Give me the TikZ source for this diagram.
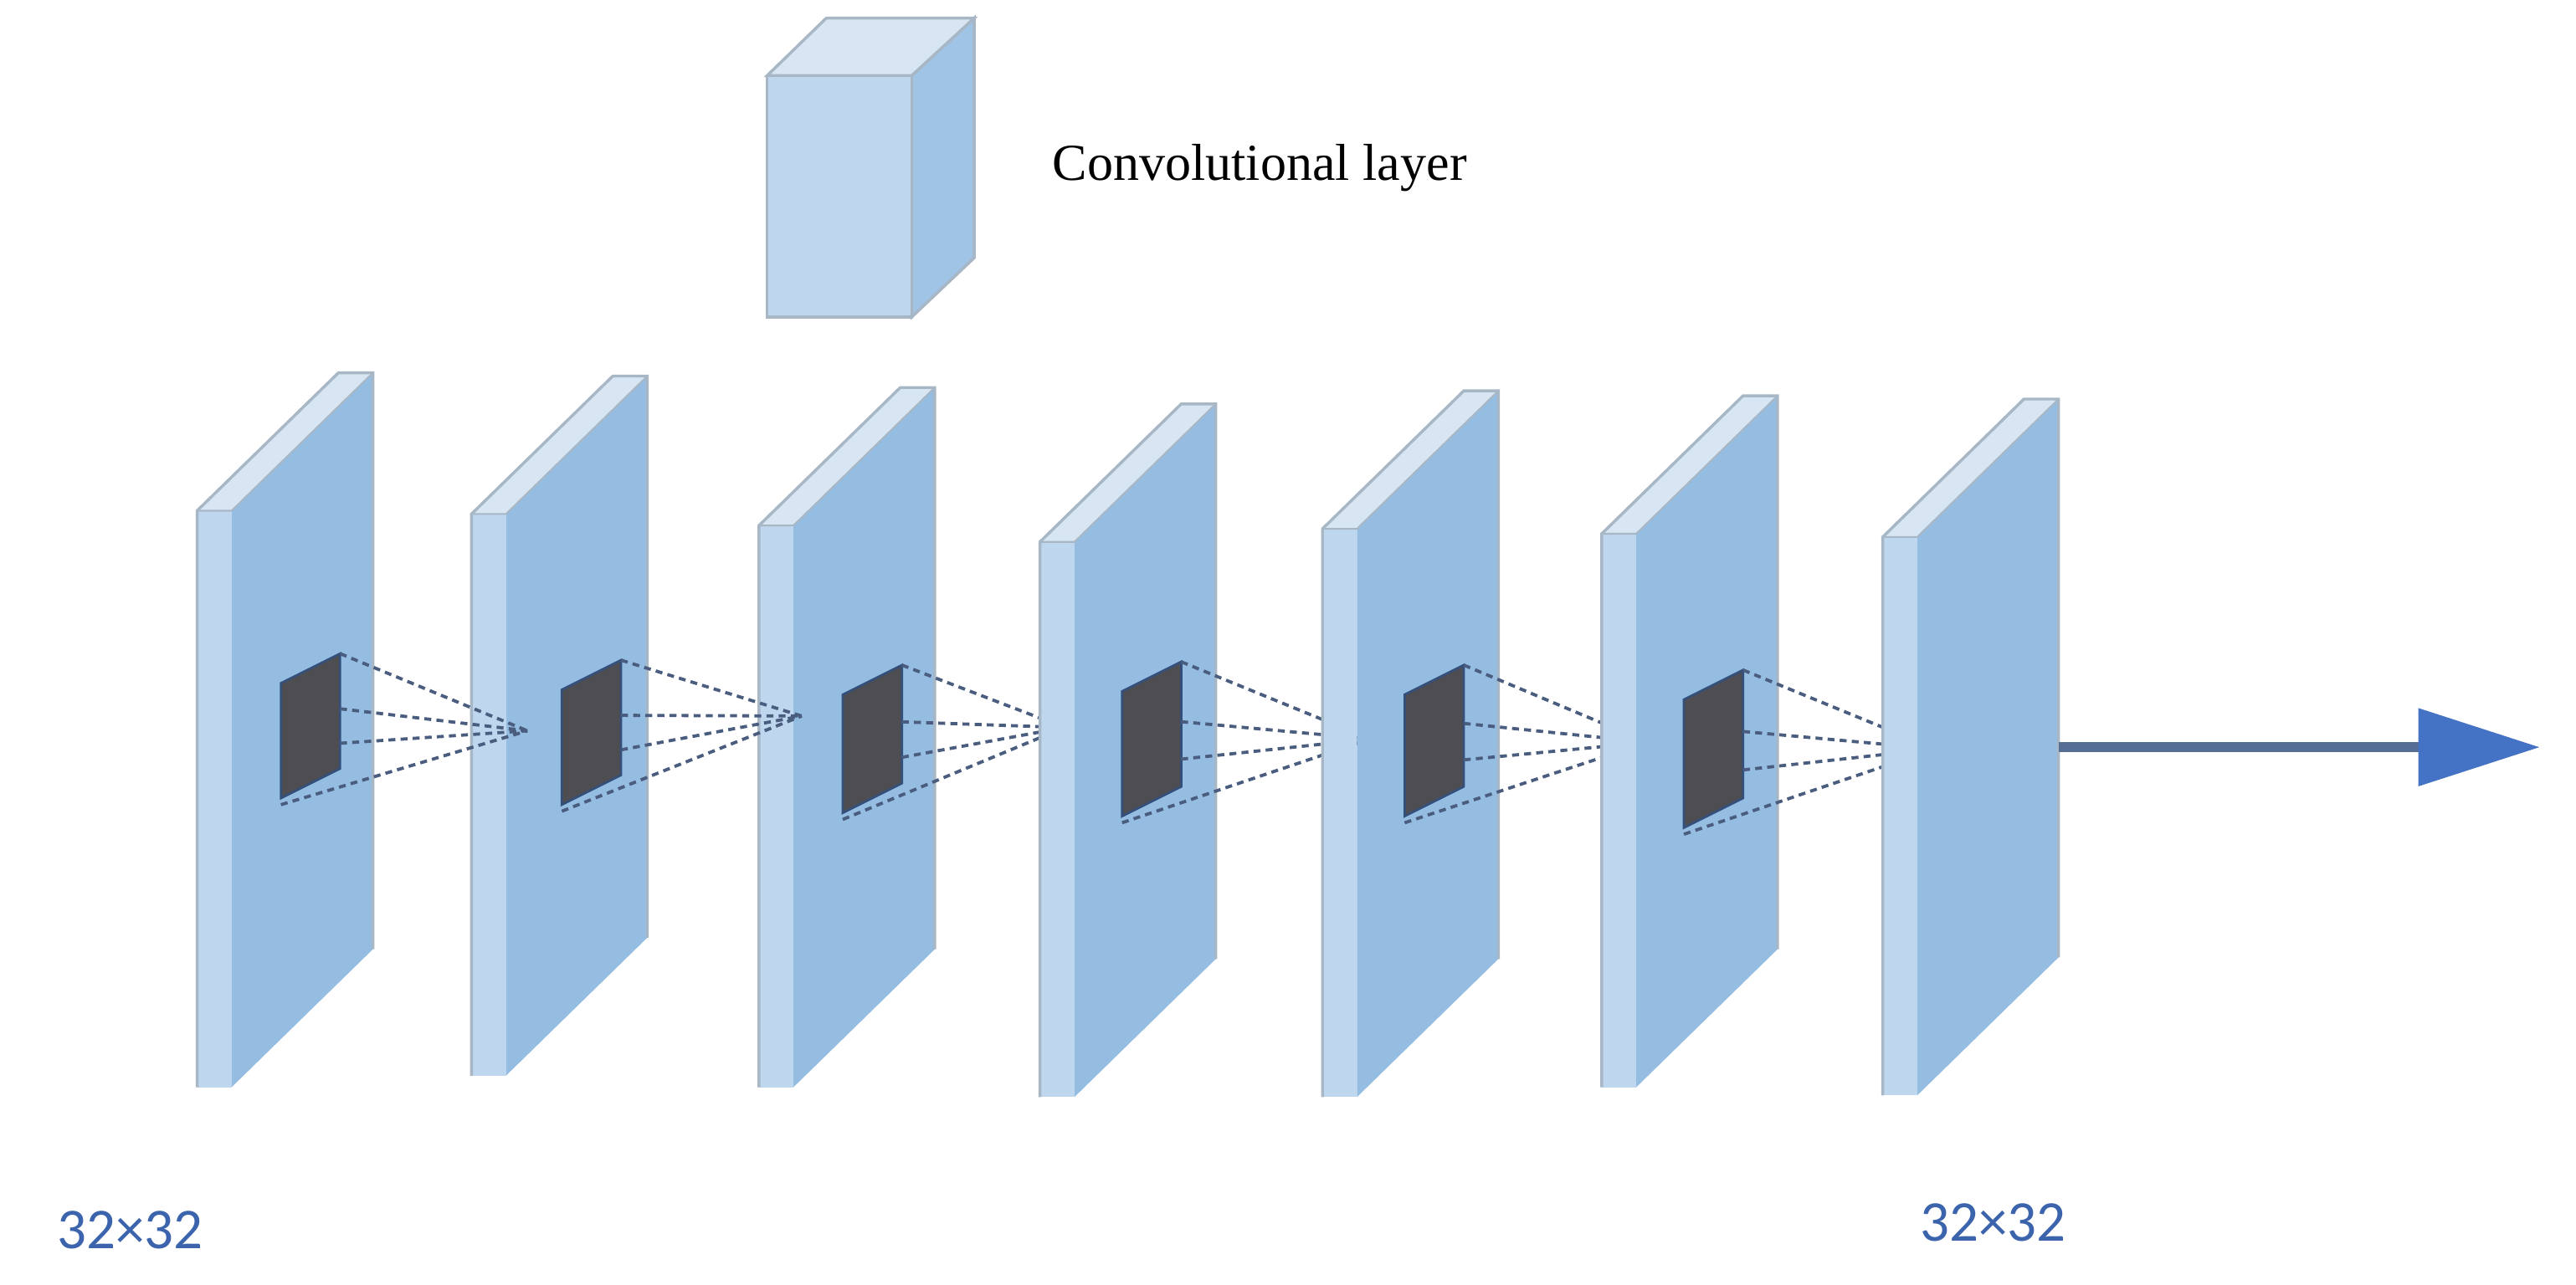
\documentclass[tikz,border=0pt]{standalone}
\usepackage{fontspec}
\setmainfont{Liberation Serif}
\newfontfamily\labelfont{Carlito}
\usetikzlibrary{arrows.meta,calc}
\definecolor{sideblue}{HTML}{95BDE2}
\definecolor{frontblue}{HTML}{BFD7EE}
\definecolor{topblue}{HTML}{D8E6F4}
\definecolor{edgegrey}{HTML}{A8B7C6}
\definecolor{kernelgrey}{HTML}{4E4E52}
\definecolor{kerneledge}{HTML}{34507A}
\definecolor{fanblue}{HTML}{4A5D7E}
\definecolor{shaftblue}{HTML}{566E96}
\definecolor{headblue}{HTML}{4472C4}
\definecolor{labelblue}{HTML}{3B64AD}
\tikzset{
  slabside/.style={fill=sideblue},
  slabfront/.style={fill=frontblue},
  slabtop/.style={fill=topblue},
  rim/.style={draw=edgegrey,line width=0.5pt},
  kernel/.style={fill=kernelgrey,draw=kerneledge,line width=0.4pt},
  fan/.style={draw=fanblue,line width=0.55pt,dash pattern=on 1.2pt off 0.9pt},
  sizelabel/.style={font=\labelfont\fontsize{10}{12}\selectfont,text=labelblue,inner sep=0pt,anchor=base west},
  legendtext/.style={font=\fontsize{9}{11}\selectfont,text=black,inner sep=0pt,anchor=base west},
  flow/.style={draw=shaftblue,line width=1.7pt,-{Triangle[length=7.4mm,width=4.6mm,color=headblue,fill=headblue]}}
}
\newcommand\slabat[4]{%
  \coordinate (#1-ftl) at (#2,#3);
  \coordinate (#1-ftr) at (#2+21,#3);
  \coordinate (#1-fbl) at (#2,#4);
  \coordinate (#1-fbr) at (#2+21,#4);
  \coordinate (#1-btl) at (#2+86,#3-84);
  \coordinate (#1-btr) at (#2+107,#3-84);
  \coordinate (#1-bbr) at (#2+107,#4-84);
  \fill[slabside] (#1-ftr) -- (#1-btr) -- (#1-bbr) -- (#1-fbr) -- cycle;
  \fill[slabtop] (#1-ftl) -- (#1-ftr) -- (#1-btr) -- (#1-btl) -- cycle;
  \fill[slabfront] (#1-ftl) rectangle (#1-fbr);
  \draw[rim] (#1-fbl) -- (#1-ftl) -- (#1-btl) -- (#1-btr) -- (#1-bbr);
  \draw[draw=edgegrey,line width=0.3pt] (#1-ftl) -- (#1-ftr) -- (#1-btr);
}
\newcommand\kernelat[4]{%
  \coordinate (#1-tl) at (#2,#3);
  \coordinate (#1-tr) at (#2+36,#3-18);
  \coordinate (#1-br) at (#2+36,#3-18+#4);
  \coordinate (#1-bl) at (#2,#3+#4);
  \coordinate (#1-m1) at ($(#1-tr)!0.48!(#1-br)$);
  \coordinate (#1-m2) at ($(#1-tr)!0.78!(#1-br)$);
  \coordinate (#1-b0) at (#2,#3+#4+4);
  \draw[kernel] (#1-tl) -- (#1-tr) -- (#1-br) -- (#1-bl) -- cycle;
}
\newcommand\fanlines[2]{%
  \foreach \p in {tr,m1,m2,b0} \draw[fan] (#1-\p) -- (#2);
}
\begin{document}
\begin{tikzpicture}[x=0.1mm,y=-0.1mm]
\useasboundingbox[fill=white] (0,0) rectangle (1568,782);

% legend cube
\coordinate (cube-ftl) at (467,46);
\coordinate (cube-ftr) at (555,46);
\coordinate (cube-fbl) at (467,193);
\coordinate (cube-fbr) at (555,193);
\coordinate (cube-btl) at (503,11);
\coordinate (cube-btr) at (593,11);
\coordinate (cube-bbr) at (593,157);
\filldraw[fill=sideblue!90!white,rim] (cube-ftr) -- (cube-btr) -- (cube-bbr) -- (cube-fbr) -- cycle;
\filldraw[fill=topblue,rim] (cube-ftl) -- (cube-btl) -- (cube-btr) -- (cube-ftr) -- cycle;
\filldraw[fill=frontblue,rim] (cube-ftl) rectangle (cube-fbr);
\node[legendtext] (legend) at (640,110) {Convolutional layer};

% convergence points
\coordinate (c12) at (321,445);
\coordinate (c23) at (488,436);
\coordinate (c34) at (648,443);
\coordinate (c45) at (834,450);
\coordinate (c56) at (1003,452);
\coordinate (c67) at (1178,456);

\slabat{s1}{120}{311}{662}
\kernelat{k1}{171}{416}{70}
\slabat{s2}{287}{313}{655}
\fanlines{k1}{c12}
\kernelat{k2}{342}{420}{70}
\slabat{s3}{462}{320}{662}
\fanlines{k2}{c23}
\kernelat{k3}{513}{423}{72}
\fanlines{k3}{c34}
\slabat{s4}{633}{330}{668}
\kernelat{k4}{683}{421}{76}
\fanlines{k4}{c45}
\slabat{s5}{805}{322}{668}
\kernelat{k5}{855}{423}{74}
\fanlines{k5}{c56}
\slabat{s6}{975}{325}{662}
\kernelat{k6}{1025}{426}{78}
\fanlines{k6}{c67}
\slabat{s7}{1146}{327}{667}

% output arrow
\coordinate (out-start) at (1253,455);
\coordinate (out-end) at (1546,455);
\draw[flow] (out-start) -- (out-end);

% size labels
\node[sizelabel] (in-size) at (34,760.5) {32×32};
\node[sizelabel] (out-size) at (1168,755.5) {32×32};
\end{tikzpicture}
\end{document}
